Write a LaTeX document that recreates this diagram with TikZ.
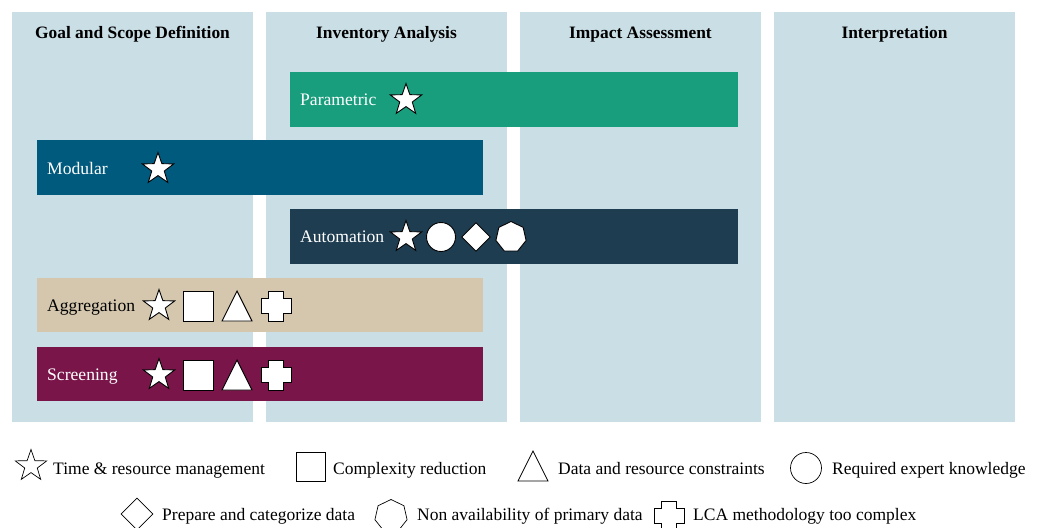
\documentclass[tikz,border=0pt]{standalone}
\usepackage{fontspec}
\setmainfont{Liberation Serif}
\usetikzlibrary{shapes.geometric}

\definecolor{phasebg}{HTML}{CADEE5}
\definecolor{paramc}{HTML}{199E7D}
\definecolor{modc}{HTML}{005A7D}
\definecolor{autoc}{HTML}{1E3D51}
\definecolor{aggc}{HTML}{D4C7AD}
\definecolor{scrc}{HTML}{7A154A}

\tikzset{
  phase/.style={fill=phasebg, draw=none, inner sep=0pt, anchor=north west,
                minimum width=241pt, minimum height=410pt},
  phasetitle/.style={font=\fontsize{17.4}{20}\selectfont\bfseries, inner sep=0pt, anchor=base},
  bar/.style={draw=none, inner sep=0pt, anchor=north west, minimum height=55pt},
  barlabel/.style={font=\fontsize{17.6}{20}\selectfont, inner sep=0pt, anchor=base west},
  legtext/.style={font=\fontsize{17.5}{20}\selectfont, inner sep=0pt, anchor=base west},
  icon/.style={draw=black, fill=white, line width=0.9pt, inner sep=0pt},
  legicon/.style={draw=black, fill=white, line width=0.7pt, inner sep=0pt},
  staricon/.style={star, star points=5, star point ratio=2.5, minimum size=33pt},
  sqicon/.style={rectangle, minimum size=30pt},
  circicon/.style={circle, minimum size=29pt},
  diaicon/.style={diamond, minimum size=29pt},
  hepicon/.style={regular polygon, regular polygon sides=7, minimum size=31pt},
  pics/tricon/.style={code={
    \draw[#1] (-15,15) -- (0,-15) -- (15,15) -- cycle;}},
  pics/plusicon/.style={code={
    \draw[#1] (-7.5,-15) -- (7.5,-15) -- (7.5,-7.5) -- (15,-7.5) -- (15,7.5)
      -- (7.5,7.5) -- (7.5,15) -- (-7.5,15) -- (-7.5,7.5) -- (-15,7.5)
      -- (-15,-7.5) -- (-7.5,-7.5) -- cycle;}},
}

\begin{document}
\begin{tikzpicture}[x=1pt, y=-1pt]
\useasboundingbox (0,0) rectangle (1043,527);

% life cycle phases
\node[phase] (goal) at (12,12) {};
\node[phase] (inv)  at (266,12) {};
\node[phase] (imp)  at (520,12) {};
\node[phase] (intp) at (774,12) {};
\node[phasetitle] (tgoal) at (132.5,39) {Goal and Scope Definition};
\node[phasetitle] (tinv)  at (386.5,39) {Inventory Analysis};
\node[phasetitle] (timp)  at (640.5,39) {Impact Assessment};
\node[phasetitle] (tintp) at (894.5,39) {Interpretation};

% approach bars
\node[bar, fill=paramc, minimum width=448pt] (param) at (290,72) {};
\node[bar, fill=modc,   minimum width=446pt] (modu)  at (37,140) {};
\node[bar, fill=autoc,  minimum width=448pt] (auto)  at (290,209) {};
\node[bar, fill=aggc,   minimum width=446pt, minimum height=54pt] (aggr) at (37,278) {};
\node[bar, fill=scrc,   minimum width=446pt, minimum height=54pt] (scre) at (37,347) {};

\node[barlabel, text=white] (lparam) at (300,105) {Parametric};
\node[barlabel, text=white] (lmodu)  at (47,174)  {Modular};
\node[barlabel, text=white] (lauto)  at (300,242) {Automation};
\node[barlabel, text=black] (laggr)  at (47,311)  {Aggregation};
\node[barlabel, text=white] (lscre)  at (47,380)  {Screening};

% drivers per approach
\node[icon, staricon] (sparam) at (406,100) {};
\node[icon, staricon] (smodu)  at (158,169) {};

\node[icon, staricon] (sauto) at (406,237) {};
\node[icon, circicon] (cauto) at (441,237) {};
\node[icon, diaicon]  (dauto) at (476,237) {};
\node[icon, hepicon]  (hauto) at (511,237) {};

\node[icon, staricon] (saggr) at (159,306) {};
\node[icon, sqicon]   (qaggr) at (198,306) {};
\pic at (237,306) {tricon={icon}};
\pic at (276,306) {plusicon={icon}};

\node[icon, staricon] (sscre) at (159,375) {};
\node[icon, sqicon]   (qscre) at (198,375) {};
\pic at (237,375) {tricon={icon}};
\pic at (276,375) {plusicon={icon}};

% legend
\node[legicon, staricon] (kstar) at (31,466) {};
\node[legtext] (tstar) at (53,474) {Time \& resource management};
\node[legicon, sqicon, minimum size=29pt] (ksq) at (311,467) {};
\node[legtext] (tsq) at (333,474) {Complexity reduction};
\pic at (533,466) {tricon={legicon}};
\node[legtext] (ttri) at (558,474) {Data and resource constraints};
\node[legicon, circicon, minimum size=31pt] (kcirc) at (806,468) {};
\node[legtext] (tcirc) at (832,474) {Required expert knowledge};

\node[legicon, diaicon, minimum size=32pt] (kdia) at (137,514) {};
\node[legtext] (tdia) at (162,520) {Prepare and categorize data};
\node[legicon, hepicon, minimum size=33pt] (khep) at (391,516) {};
\node[legtext] (thep) at (417,520) {Non availability of primary data};
\pic at (669,516) {plusicon={legicon}};
\node[legtext] (tplus) at (693,520) {LCA methodology too complex};
\end{tikzpicture}
\end{document}
